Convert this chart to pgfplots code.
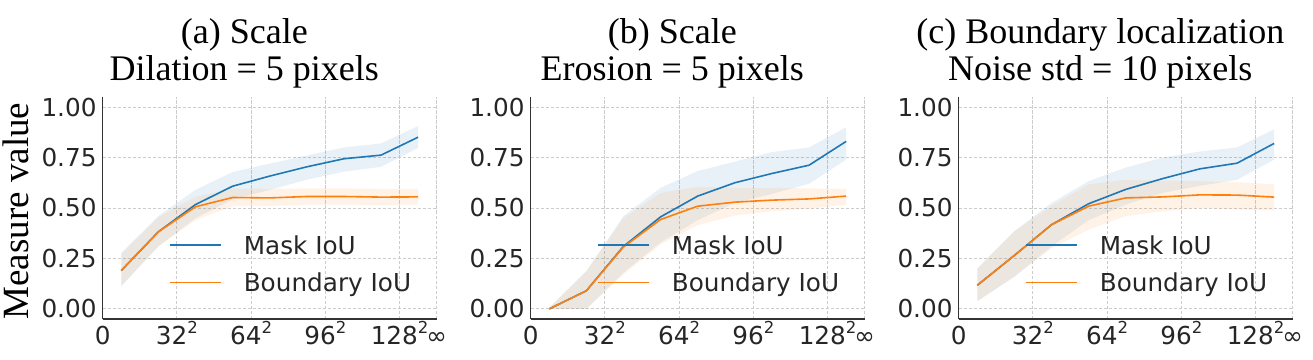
\documentclass[border=0pt]{standalone}
\usepackage{fontspec}
\setmainfont{Liberation Serif}
\newfontfamily\dejavu{DejaVu Sans}
\usepackage{pgfplots}
\pgfplotsset{compat=1.18}
\usepackage{pgfplotstable}
\usepgfplotslibrary{fillbetween}
\definecolor{mblue}{HTML}{1F77B4}
\definecolor{morange}{HTML}{FF7F0E}
\definecolor{gridc}{HTML}{CCCCCC}
\definecolor{spine}{HTML}{333333}
\definecolor{ticktext}{HTML}{262626}

\newcommand{\sq}[1]{#1\raisebox{11pt}{\fontsize{16.5}{16.5}\selectfont 2}}
\newcommand{\tickfont}{\dejavu\fontsize{24.7}{26}\selectfont}

% x: bin centre (1 unit = 32 px of side), m/mlo/mhi: Mask IoU mean and band, b/blo/bhi: Boundary IoU
\pgfplotstableread{
x    m     mlo   mhi   b     blo   bhi
0.25 0.190 0.112 0.278 0.190 0.115 0.270
0.75 0.382 0.310 0.460 0.382 0.310 0.455
1.25 0.517 0.450 0.590 0.506 0.440 0.555
1.75 0.608 0.542 0.678 0.552 0.509 0.597
2.25 0.658 0.590 0.720 0.550 0.510 0.595
2.75 0.704 0.640 0.760 0.557 0.517 0.597
3.25 0.744 0.680 0.800 0.557 0.517 0.597
3.75 0.762 0.704 0.820 0.554 0.515 0.595
4.25 0.851 0.798 0.906 0.555 0.517 0.595
}\dataA
\pgfplotstableread{
x    m     mlo   mhi   b     blo   bhi
0.25 0.000 0.000 0.006 0.000 0.000 0.006
0.75 0.090 0.000 0.187 0.090 0.000 0.187
1.25 0.310 0.180 0.460 0.307 0.170 0.450
1.75 0.456 0.330 0.600 0.443 0.320 0.575
2.25 0.559 0.440 0.683 0.509 0.415 0.605
2.75 0.625 0.525 0.730 0.529 0.463 0.600
3.25 0.671 0.570 0.777 0.539 0.484 0.600
3.75 0.712 0.620 0.800 0.545 0.496 0.597
4.25 0.830 0.740 0.900 0.559 0.517 0.595
}\dataB
\pgfplotstableread{
x    m     mlo   mhi   b     blo   bhi
0.25 0.117 0.038 0.200 0.117 0.038 0.200
0.75 0.265 0.160 0.385 0.265 0.160 0.385
1.25 0.417 0.310 0.525 0.417 0.300 0.510
1.75 0.521 0.440 0.633 0.509 0.393 0.617
2.25 0.592 0.517 0.700 0.550 0.460 0.640
2.75 0.646 0.575 0.750 0.555 0.484 0.636
3.25 0.694 0.610 0.780 0.565 0.500 0.633
3.75 0.722 0.640 0.800 0.564 0.493 0.628
4.25 0.820 0.740 0.890 0.554 0.488 0.617
}\dataC

\pgfplotsset{
  panel/.style={
    scale only axis, width=334pt, height=222pt,
    anchor=south west,
    xmin=0, xmax=4.5, ymin=-0.05, ymax=1.05,
    xtick={0,1,2,3,4,4.5},
    xticklabels={0,\sq{32},\sq{64},\sq{96},\sq{128},∞},
    ytick={0,0.25,0.5,0.75,1},
    yticklabels={0.00,0.25,0.50,0.75,1.00},
    axis x line*=bottom, axis y line*=left,
    axis line style={spine, line width=1.3pt, -},
    major tick length=0pt, tick style={draw=none},
    grid=major,
    major grid style={gridc, line width=0.9pt, dash pattern=on 3.5pt off 1.5pt},
    tick label style={font=\tickfont, text=ticktext, inner sep=0pt},
    xticklabel style={anchor=north, text height=25.3pt, text depth=0pt},
    yticklabel style={anchor=east, xshift=-6pt},
    title style={at={(axis description cs:0.424,1)}, anchor=south, align=center,
      font=\fontsize{36}{37}\selectfont, inner sep=0pt, yshift=2.2pt},
    legend style={draw=none, fill=none, inner sep=0pt, outer sep=0pt,
      at={(axis description cs:0.2,0.372)}, anchor=north west,
      font=\tickfont, row sep=14.4pt, column sep=22pt,
      nodes={inner sep=0pt, text height=18pt, text depth=5pt, text=ticktext}},
    legend cell align=left,
    legend image code/.code={\draw[##1] (0pt,3pt) -- (50.7pt,3pt);},
  }
}

\newcommand{\drawpanel}[2]{%
  \addplot[name path=mh#2, draw=none, forget plot] table[x=x,y=mhi]{#1};
  \addplot[name path=ml#2, draw=none, forget plot] table[x=x,y=mlo]{#1};
  \addplot[name path=bh#2, draw=none, forget plot] table[x=x,y=bhi]{#1};
  \addplot[name path=bl#2, draw=none, forget plot] table[x=x,y=blo]{#1};
  \addplot[fill=mblue, fill opacity=0.1, draw=none, forget plot] fill between[of=mh#2 and ml#2];
  \addplot[fill=morange, fill opacity=0.1, draw=none, forget plot] fill between[of=bh#2 and bl#2];
  \addplot[mblue, line width=1.6pt, mark=none] table[x=x,y=m]{#1};
  \addlegendentry{Mask IoU}
  \addplot[morange, line width=1.6pt, mark=none] table[x=x,y=b]{#1};
  \addlegendentry{Boundary IoU}
}

\begin{document}
\begin{tikzpicture}
\path (0,0) rectangle (1313pt,359pt);
\begin{axis}[panel, at={(102.7pt,40pt)},
  title={(a) Scale\\Dilation = 5 pixels},
  ylabel={Measure value},
  ylabel style={at={(axis description cs:-0.26,0.486)}, anchor=center, inner sep=0pt,
    font=\fontsize{37}{38}\selectfont, text=black}]
\drawpanel{\dataA}{a}
\end{axis}
\begin{axis}[panel, at={(530.7pt,40pt)},
  title={(b) Scale\\Erosion = 5 pixels}]
\drawpanel{\dataB}{b}
\end{axis}
\begin{axis}[panel, at={(958.7pt,40pt)},
  title={(c) Boundary localization\\Noise std = 10 pixels}]
\drawpanel{\dataC}{c}
\end{axis}
\end{tikzpicture}
\end{document}
